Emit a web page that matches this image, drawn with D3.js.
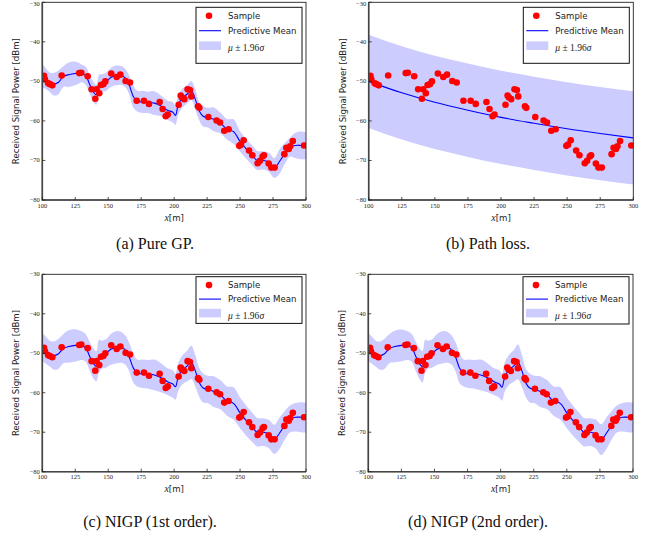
<!DOCTYPE html>
<html>
<head>
<meta charset="utf-8">
<script src="https://cdnjs.cloudflare.com/ajax/libs/d3/7.8.5/d3.min.js"></script>
<style>
  body { margin: 0; background: #fff; }
  svg { display: block; }
</style>
</head>
<body>
<div id="viz"></div>
<script>
// measured samples (same in all four panels)
const sampleX = [101.3, 102, 104.5, 105.8, 107.6, 114.7, 128, 129.6, 134.4, 137.4, 140.2, 141.2, 143.2, 144.5, 146.3, 147.8,
  152.3, 156.4, 159.2, 163.2, 166.5, 171.6, 177.1, 180.9, 189, 191.3, 193.6, 195.1, 203.4, 205, 206, 207.7, 210.2, 212,
  213, 218.1, 219.1, 225.9, 232.2, 234.8, 238, 241.3, 249.4, 250.7, 252.7, 256.8, 259.3, 263.3, 265.1, 267.1, 268.1,
  271.7, 273.7, 276.2, 283.6, 285.1, 286.9, 288, 290, 298.5];
const sampleY = [-48.6, -49.5, -50.5, -50.7, -51, -48.5, -47.9, -47.8, -48.7, -52, -54.4, -52, -53, -50.9, -50.7, -50,
  -48, -48.9, -48.3, -49.9, -50.3, -54.9, -54.9, -55.7, -55.2, -57, -58.8, -58.4, -55.9, -53.6, -54.1, -54.5, -52, -52.2,
  -53.8, -56.3, -56.7, -59, -59.9, -60.4, -62.5, -62.1, -66.3, -66, -64.9, -67.5, -68.7, -70.7, -70.1, -69, -68.7,
  -70.8, -71.8, -71.8, -68.4, -66.8, -67.1, -66.4, -65.1, -66.2];

// predictive mean / 1.96 sigma
const gridX = [100, 103, 106, 109, 112, 116, 120, 125, 130, 133, 136, 139, 141, 143, 145, 148, 152, 156, 160, 163, 166,
  169, 172, 176, 180, 185, 190, 195, 199, 201, 203, 206, 210, 213, 216, 219, 222, 226, 230, 235, 240, 245, 250, 255,
  260, 263, 268, 272, 276, 280, 284, 288, 292, 296, 300];
const meanGP = [-48.5, -49.4, -50.3, -50.7, -50.3, -48.8, -48.3, -48, -48, -48.6, -50.8, -52.8, -53.4, -50.6, -50.4,
  -50.2, -49, -48.5, -48.5, -49.2, -51, -53.8, -55, -55.2, -55.3, -55.5, -56.2, -57.3, -57.8, -58.6, -56, -54.3, -53.2,
  -52.3, -54.5, -57.5, -58.8, -59.2, -59.6, -60.5, -62.1, -62.7, -65.2, -67.2, -69, -70, -70, -70.5, -71.9, -70.2,
  -68.2, -66.6, -66.2, -66.2, -66.3];
const bandGP = [3.0, 2.6, 2.5, 2.9, 3.0, 2.6, 3.1, 3.0, 2.2, 2.3, 2.4, 2.6, 2.5, 2.3, 2.2, 2.3, 2.4, 2.5, 2.4, 2.3, 2.4,
  2.8, 2.6, 2.8, 2.7, 3.0, 2.6, 2.4, 2.6, 2.4, 2.5, 2.4, 2.3, 2.4, 2.6, 2.3, 2.6, 2.5, 3.0, 2.6, 2.6, 3.1, 2.6, 2.5,
  2.5, 2.4, 2.3, 2.4, 2.5, 3.1, 2.6, 2.4, 3.2, 3.5, 3.4];
const meanNIGP1 = [-48.4, -49.3, -50.2, -50.6, -50.2, -48.8, -48.3, -48, -48.1, -48.7, -50.8, -52.7, -53.3, -50.7, -50.4,
  -50.1, -49, -48.5, -48.5, -49.2, -51, -53.7, -55, -55.2, -55.3, -55.5, -56.2, -57.2, -57.8, -58.5, -56.1, -54.3,
  -53.2, -52.3, -54.4, -57.4, -58.8, -59.2, -59.7, -60.5, -62.1, -62.7, -65.1, -67.2, -69, -70, -70, -70.5, -71.8,
  -70.2, -68.2, -66.6, -66.2, -66.2, -66.3];
const bandNIGP1 = [3.6, 3.4, 3.3, 3.6, 3.8, 3.7, 4.1, 4.1, 3.6, 3.5, 3.6, 3.8, 3.8, 4.2, 3.6, 3.6, 3.9, 4.1, 3.9, 3.7,
  3.6, 3.7, 3.4, 3.6, 3.6, 3.9, 3.7, 3.4, 3.5, 3.3, 3.6, 3.7, 3.9, 4.2, 4.0, 3.6, 3.7, 3.5, 3.9, 3.7, 3.7, 4.1, 3.9,
  3.8, 3.7, 3.6, 3.5, 3.6, 3.7, 4.0, 3.6, 3.4, 3.6, 3.8, 3.8];
const meanNIGP2 = [-48.4, -49.3, -50.2, -50.6, -50.2, -48.8, -48.3, -48, -48.1, -48.7, -50.9, -52.8, -53.4, -50.7,
  -50.4, -50.1, -49, -48.5, -48.5, -49.2, -51, -53.8, -55, -55.2, -55.3, -55.5, -56.2, -57.2, -57.8, -58.6, -56.1,
  -54.3, -53.2, -52.2, -54.4, -57.5, -58.8, -59.2, -59.7, -60.5, -62.1, -62.7, -65.1, -67.2, -69, -70, -70, -70.5,
  -71.9, -70.2, -68.2, -66.6, -66.2, -66.2, -66.3];
const bandNIGP2 = [3.6, 3.4, 3.3, 3.6, 3.8, 3.7, 4.0, 4.0, 3.6, 3.5, 3.7, 3.9, 4.0, 4.2, 3.6, 3.6, 3.9, 4.1, 3.9, 3.7,
  3.7, 3.8, 3.4, 3.6, 3.6, 3.9, 3.7, 3.4, 3.5, 3.4, 3.7, 3.8, 4.0, 4.4, 4.1, 3.6, 3.7, 3.5, 3.9, 3.7, 3.7, 4.1, 3.9,
  3.8, 3.7, 3.6, 3.5, 3.7, 3.9, 4.0, 3.6, 3.4, 3.6, 3.8, 3.8];

// path loss panel
const plX = [100, 125, 150, 175, 200, 225, 250, 275, 300];
const plMean = [-50, -52.9, -55.3, -57.3, -59.1, -60.6, -62, -63.2, -64.3];
const plUpper = [-38.2, -41.1, -43.5, -45.5, -47.3, -48.8, -50.2, -51.4, -52.5];
const plLower = [-61.8, -64.7, -67.1, -69.1, -70.9, -72.4, -73.8, -75, -76.1];

const xTicks = [100, 125, 150, 175, 200, 225, 250, 275, 300];
const yTicks = [-80, -70, -60, -50, -40, -30];
const legendLabels = ["Sample", "Predictive Mean"];
const captions = ["(a) Pure GP.", "(b) Path loss.", "(c) NIGP (1st order).", "(d) NIGP (2nd order)."];

const W = 652, H = 535;
const svg = d3.select("#viz").append("svg").attr("width", W).attr("height", H);

const panels = [
  { l: 42.3, r: 306, t: 2.3, b: 200, mean: meanGP, band: bandGP, cap: captions[0], cx: 155, cy: 249, lg: [7.3, 63.3, 15] },
  { l: 368.7, r: 633.3, t: 2.3, b: 200, pathloss: true, cap: captions[1], cx: 488, cy: 249, lg: [7.3, 63.3, 15] },
  { l: 42.3, r: 306, t: 274.3, b: 471.7, mean: meanNIGP1, band: bandNIGP1, cap: captions[2], cx: 150, cy: 527, lg: [4.7, 51.4, 14] },
  { l: 368.3, r: 633, t: 274.3, b: 471.7, mean: meanNIGP2, band: bandNIGP2, cap: captions[3], cx: 478, cy: 527, lg: [4.7, 52, 14] }
];

const bandColor = "#ccccff";

panels.forEach(p => {
  const x = d3.scaleLinear().domain([100, 300]).range([p.l, p.r]);
  const y = d3.scaleLinear().domain([-80, -30]).range([p.b, p.t]);
  const g = svg.append("g");

  const clipId = "clip" + Math.round(p.l) + Math.round(p.t);
  g.append("clipPath").attr("id", clipId)
    .append("rect").attr("x", p.l).attr("y", p.t).attr("width", p.r - p.l).attr("height", p.b - p.t);
  const plot = g.append("g").attr("clip-path", `url(#${clipId})`);

  if (p.pathloss) {
    const area = d3.area().curve(d3.curveMonotoneX)
      .x((d, i) => x(plX[i])).y0((d, i) => y(plLower[i])).y1((d, i) => y(plUpper[i]));
    plot.append("path").attr("d", area(plX)).attr("fill", bandColor);
    const line = d3.line().curve(d3.curveMonotoneX).x((d, i) => x(plX[i])).y((d, i) => y(plMean[i]));
    plot.append("path").attr("d", line(plX)).attr("fill", "none").attr("stroke", "#0000ff").attr("stroke-width", 1.1);
  } else {
    const area = d3.area().curve(d3.curveCatmullRom)
      .x((d, i) => x(gridX[i])).y0((d, i) => y(p.mean[i] - p.band[i])).y1((d, i) => y(p.mean[i] + p.band[i]));
    plot.append("path").attr("d", area(gridX)).attr("fill", bandColor);
    const line = d3.line().curve(d3.curveCatmullRom).x((d, i) => x(gridX[i])).y((d, i) => y(p.mean[i]));
    plot.append("path").attr("d", line(gridX)).attr("fill", "none").attr("stroke", "#0000ff").attr("stroke-width", 1.1);
  }

  plot.selectAll("circle").data(sampleX).enter().append("circle")
    .attr("cx", d => x(d)).attr("cy", (d, i) => y(sampleY[i])).attr("r", 3.3).attr("fill", "#ff0000");

  // frame
  g.append("rect").attr("x", p.l).attr("y", p.t).attr("width", p.r - p.l).attr("height", p.b - p.t)
    .attr("fill", "none").attr("stroke", "#222").attr("stroke-width", 0.9);
  g.append("path").attr("d", `M${p.l},${p.t}V${p.b}H${p.r}`).attr("fill", "none")
    .attr("stroke", "#444").attr("stroke-width", 1.6);

  // ticks, pointing inward
  g.selectAll(".xt").data(xTicks).enter().append("line")
    .attr("x1", d => x(d)).attr("x2", d => x(d)).attr("y1", p.b).attr("y2", p.b - 3)
    .attr("stroke", "#222").attr("stroke-width", 0.8);
  g.selectAll(".yt").data(yTicks).enter().append("line")
    .attr("y1", d => y(d)).attr("y2", d => y(d)).attr("x1", p.l).attr("x2", p.l + 3)
    .attr("stroke", "#222").attr("stroke-width", 0.8);

  g.selectAll(".xl").data(xTicks).enter().append("text")
    .attr("x", d => x(d)).attr("y", p.b + 7.5).attr("text-anchor", "middle")
    .style("font", "6.5px 'Liberation Serif', serif").attr("fill", "#222").text(d => d);
  // top label sits against the page edge, keep it just inside
  g.selectAll(".yl").data(yTicks).enter().append("text")
    .attr("x", p.l - 2.5).attr("y", d => Math.max(y(d) + 2, 5.6)).attr("text-anchor", "end")
    .style("font", "6.5px 'Liberation Serif', serif").attr("fill", "#222").text(d => "\u2212" + Math.abs(d));

  // axis labels
  g.append("text")
    .attr("transform", `translate(${p.l - 26},${(p.t + p.b) / 2}) rotate(-90)`)
    .attr("text-anchor", "middle").attr("dy", "0.35em")
    .style("font", "8.6px 'DejaVu Sans', sans-serif").attr("fill", "#222")
    .text("Received Signal Power [dBm]");
  const xl = g.append("text").attr("x", (p.l + p.r) / 2).attr("y", p.b + 20.5).attr("text-anchor", "middle")
    .attr("fill", "#222");
  xl.append("tspan").style("font", "italic 10px 'Liberation Serif', serif").text("x");
  xl.append("tspan").style("font", "8.6px 'DejaVu Sans', sans-serif").text("[m]");

  // legend
  const lx0 = p.r - 110, lx1 = p.r - 4;
  const [ly0, ly1, step] = p.lg;
  const lg = g.append("g");
  lg.append("rect").attr("x", lx0).attr("y", p.t + ly0 - 2.3).attr("width", lx1 - lx0).attr("height", ly1 - ly0)
    .attr("fill", "#fff").attr("stroke", "#111").attr("stroke-width", 1);
  const r1 = p.t + ly0 - 2.3 + 8.4;
  lg.append("circle").attr("cx", lx0 + 13).attr("cy", r1).attr("r", 3.3).attr("fill", "#ff0000");
  lg.append("line").attr("x1", lx0 + 3).attr("x2", lx0 + 25).attr("y1", r1 + step).attr("y2", r1 + step)
    .attr("stroke", "#0000ff").attr("stroke-width", 1.1);
  lg.append("rect").attr("x", lx0 + 3).attr("y", r1 + 2 * step - 4.3).attr("width", 22).attr("height", 8.6)
    .attr("fill", bandColor);
  legendLabels.forEach((t, i) => {
    lg.append("text").attr("x", lx0 + 32).attr("y", r1 + i * step).attr("dy", "0.35em")
      .style("font", "8.6px 'DejaVu Sans', sans-serif").attr("fill", "#222").text(t);
  });
  const mt = lg.append("text").attr("x", lx0 + 32).attr("y", r1 + 2 * step).attr("dy", "0.35em").attr("fill", "#222");
  mt.append("tspan").style("font", "italic 9.5px 'Liberation Serif', serif").text("\u03bc");
  mt.append("tspan").style("font", "9.5px 'Liberation Serif', serif").text(" \u00b1 1.96");
  mt.append("tspan").style("font", "italic 9.5px 'Liberation Serif', serif").text("\u03c3");

  // caption
  svg.append("text").attr("x", p.cx).attr("y", p.cy).attr("text-anchor", "middle")
    .style("font", "16px 'Liberation Serif', serif").attr("fill", "#111").text(p.cap);
});
</script>
</body>
</html>
